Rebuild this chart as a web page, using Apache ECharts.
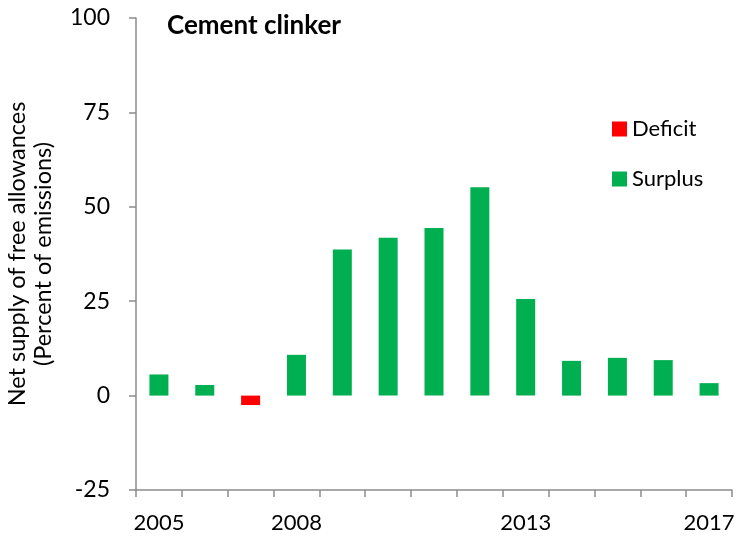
<!DOCTYPE html>
<html>
<head>
<meta charset="utf-8">
<script src="https://cdn.jsdelivr.net/npm/echarts@6/dist/echarts.min.js"></script>
<style>
  html, body { margin: 0; padding: 0; background: #fff; }
  #chart { width: 736px; height: 538px; }
</style>
</head>
<body>
<div id="chart"></div>
<script>
// data
const years = ['2005', '2006', '2007', '2008', '2009', '2010', '2011', '2012', '2013', '2014', '2015', '2016', '2017'];
const deficit = [null, null, -2.5, null, null, null, null, null, null, null, null, null, null];
const surplus = [5.6, 2.8, null, 10.8, 38.7, 41.8, 44.4, 55.2, 25.6, 9.2, 10.0, 9.4, 3.3];
const shownYears = ['2005', '2008', '2013', '2017'];
const yTicks = { min: -25, max: 100, step: 25 };

const axisGray = '#8c8c8c';
const font = 'Lato, "Open Sans", sans-serif';

const chart = echarts.init(document.getElementById('chart'));

const options = {
  animation: false,
  title: {
    text: 'Cement clinker',
    left: 162,
    top: 8,
    textStyle: { fontFamily: font, fontWeight: 'bold', fontSize: 26, color: '#000' }
  },
  legend: {
    data: ['Deficit', 'Surplus'],
    orient: 'vertical',
    left: 607,
    top: 113,
    itemWidth: 15,
    itemHeight: 15,
    itemGap: 28,
    icon: 'rect',
    textStyle: { fontFamily: font, fontSize: 22, color: '#000' }
  },
  grid: {
    left: 136,
    right: 4,
    top: 18,
    bottom: 48,
    outerBoundsMode: 'none',
    containLabel: false
  },
  xAxis: {
    type: 'category',
    data: years,
    axisLine: { onZero: false, lineStyle: { color: axisGray, width: 1.5 } },
    axisTick: { show: true, length: 7, interval: 0, lineStyle: { color: axisGray, width: 1.5 } },
    axisLabel: {
      interval: (i, v) => shownYears.includes(v),
      margin: 22,
      fontFamily: font,
      fontSize: 22,
      color: '#000'
    }
  },
  yAxis: {
    type: 'value',
    min: yTicks.min,
    max: yTicks.max,
    interval: yTicks.step,
    name: 'Net supply of free allowances\n(Percent of emissions)',
    nameLocation: 'middle',
    nameRotate: 90,
    nameGap: 80,
    nameTextStyle: { fontFamily: font, fontSize: 23.5, color: '#000', lineHeight: 26 },
    splitLine: { show: false },
    axisLine: { show: true, lineStyle: { color: axisGray, width: 1.5 } },
    axisTick: { show: true, length: 7, lineStyle: { color: axisGray, width: 1.5 } },
    axisLabel: { margin: 26, fontFamily: font, fontSize: 23, color: '#000' }
  },
  series: [
    {
      name: 'Deficit',
      type: 'bar',
      stack: 'net',
      barWidth: 19,
      itemStyle: { color: '#ff0000' },
      data: deficit
    },
    {
      name: 'Surplus',
      type: 'bar',
      stack: 'net',
      barWidth: 19,
      itemStyle: { color: '#00b050' },
      data: surplus
    }
  ]
};

chart.setOption(options);
</script>
</body>
</html>
